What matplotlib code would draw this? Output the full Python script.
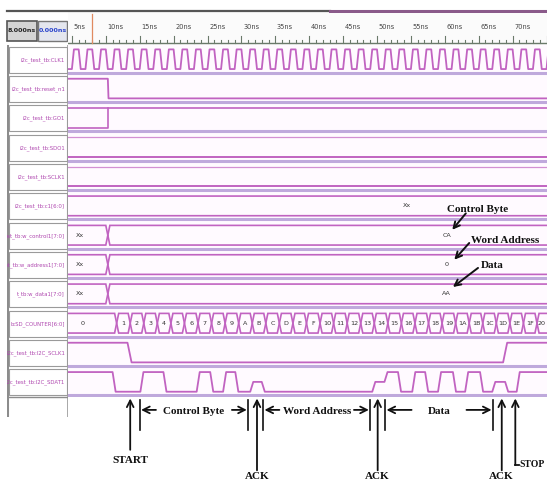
import matplotlib.pyplot as plt
from matplotlib.patches import Polygon, Rectangle

# ---- values ----
# long names are shown cut at the left edge of the name column, as in the screenshot
signal_names = ["i2c_test_tb:CLK1", "i2c_test_tb:reset_n1", "i2c_test_tb:GO1",
                "i2c_test_tb:SDO1", "i2c_test_tb:SCLK1", "i2c_test_tb:c1[6:0]",
                "est_tb:w_control1[7:0]", "st_tb:w_address1[7:0]",
                "t_tb:w_data1[7:0]", "b:SD_COUNTER[6:0]",
                "i2c_test_tb:I2C_SCLK1", "i2c_test_tb:I2C_SDAT1"]
time_ticks = [5, 10, 15, 20, 25, 30, 35, 40, 45, 50, 55, 60, 65, 70]
time_labels = ["5ns", "10ns", "15ns", "20ns", "25ns", "30ns", "35ns", "40ns",
               "45ns", "50ns", "55ns", "60ns", "65ns", "70ns"]
master_time = "8.000ns"
pointer_time = "0.000ns"
cursor_time = 8.0

clk_rise = [3, 5, 7, 9, 11, 13, 15, 17, 19, 21, 23, 25, 27, 29, 31, 33, 35, 37,
            39, 41, 43, 45, 47, 49, 51, 53, 55, 57, 59, 61, 63, 65, 67, 69, 71, 73, 75]
reset_fall = 10.3
go_rise = 10.3
c1_value = "Xx"
word_change = 10.3
control_vals = ["Xx", "CA"]
address_vals = ["Xx", "0"]
data_vals = ["Xx", "AA"]

counter_vals = ["0", "1", "2", "3", "4", "5", "6", "7", "8", "9", "A", "B", "C",
                "D", "E", "F", "10", "11", "12", "13", "14", "15", "16", "17", "18",
                "19", "1A", "1B", "1C", "1D", "1E", "1F", "20"]
counter_start = [0.0, 11.6, 13.6, 15.6, 17.6, 19.6, 21.6, 23.6, 25.6, 27.6, 29.6,
                 31.6, 33.6, 35.6, 37.6, 39.6, 41.6, 43.6, 45.6, 47.6, 49.6, 51.6,
                 53.6, 55.6, 57.6, 59.6, 61.6, 63.6, 65.6, 67.6, 69.6, 71.6, 73.6]

sclk_t = [13.2, 68.6]
sclk_v = [0, 1]
sdat_t = [11.0, 15.1, 18.5, 23.4, 25.4, 27.3, 29.1, 31.3, 33.0, 49.3, 51.1, 53.1,
          55.2, 57.1, 59.0, 61.2, 63.0, 65.2, 67.0, 68.9, 70.6]
sdat_v = [0, 1, 0, 1, 0, 1, 0, 0.5, 0, 0.5, 1, 0, 1, 0, 1, 0, 1, 0, 0.5, 0, 1]

start_t = 13.6
ack_t = [32.3, 50.1, 68.4]
stop_t = 70.4
frame_names = ["Control Byte", "Word Address", "Data"]
frame_from = [15.0, 33.2, 51.2]
frame_to = [31.0, 49.0, 67.1]

# ---- layout / style ----
W, H = 547, 482
PX_NS, ZERO_PX = 6.78, 38.0
T0 = (68 - ZERO_PX) / PX_NS
T1 = (W - ZERO_PX) / PX_NS
SIG = "#c163c1"
SEP = "#bfa9dc"
HI, LO = 0.15, 0.82
ANN = dict(family="Liberation Serif", weight="bold", color="#111111")

fig = plt.figure(figsize=(W / 100, H / 100), dpi=100)


def box(x0, y0, x1, y1):
    a = fig.add_axes([x0 / W, 1 - y1 / H, (x1 - x0) / W, (y1 - y0) / H])
    a.set_axis_off()
    return a


def lvl(row, v):
    return row + LO - (LO - HI) * v


def bit_wave(row, init, ts, vs, edge=0.35):
    xs, ys, cur = [T0 - 1], [lvl(row, init)], init
    for t, v in zip(ts, vs):
        xs += [t, t + edge]
        ys += [lvl(row, cur), lvl(row, v)]
        cur = v
    xs.append(T1 + 1)
    ys.append(lvl(row, cur))
    ax.plot(xs, ys, color=SIG, lw=1.3)


def bus(row, starts, labels, label_t=None, d=0.3):
    ends = list(starts[1:]) + [T1 + 2]
    for k, (s, e) in enumerate(zip(starts, ends)):
        if s < T0:
            s = T0 - 2
        mid = row + (HI + LO) / 2
        pts = [(s, mid), (s + d, row + HI), (e - d, row + HI), (e, mid),
               (e - d, row + LO), (s + d, row + LO)]
        ax.add_patch(Polygon(pts, closed=True, fill=False, ec=SIG, lw=1.2))
        if labels[k]:
            if label_t is not None and label_t[k] is not None:
                tx = label_t[k]
            else:
                tx = (max(s, T0) + min(e, T1)) / 2
            ax.text(tx, mid, labels[k], ha="center", va="center", fontsize=4.6,
                    color="#333333", clip_on=True)


# waveform area
ax = box(68, 45, 547, 397)
ax.set_xlim(T0, T1)
ax.set_ylim(12, 0)
ax.add_patch(Rectangle((0, 0), 1, 1, transform=ax.transAxes, fc="#fffaff", ec="none", zorder=0))
for i in range(1, 13):
    ax.axhline(i - 0.06, color=SEP, lw=2.2, zorder=1)

clk_t, clk_v = [], []
for r in clk_rise:
    clk_t += [r, r + 1]
    clk_v += [1, 0]
bit_wave(0, 0, clk_t, clk_v, edge=0.3)
bit_wave(1, 1, [reset_fall], [0], edge=0.1)
ax.plot([T0 - 1, T1 + 1], [lvl(2, 1)] * 2, color=SIG, lw=1.2)
ax.plot([T0 - 1, go_rise, go_rise], [lvl(2, 0), lvl(2, 0), lvl(2, 1)], color=SIG, lw=1.2)
for row in (3, 4):
    ax.plot([T0 - 1, T1 + 1], [lvl(row, 1)] * 2, color=SIG, lw=0.9, alpha=0.7)
    ax.plot([T0 - 1, T1 + 1], [lvl(row, 0)] * 2, color=SIG, lw=1.4)
bus(5, [0.0], [c1_value], [54.4])
for row, vals in zip((6, 7, 8), (control_vals, address_vals, data_vals)):
    bus(row, [0.0, word_change], vals, [6.2, 60.3])
bus(9, counter_start, counter_vals, [6.6] + [None] * 32)
bit_wave(10, 1, sclk_t, sclk_v, edge=0.6)
bit_wave(11, 1, sdat_t, sdat_v, edge=0.45)

# annotations inside the waveform area
ax.text(64.8, 5.62, "Control Byte", fontsize=8, ha="center", va="center", **ANN)
ax.text(68.9, 6.65, "Word Address", fontsize=8, ha="center", va="center", **ANN)
ax.text(67.0, 7.52, "Data", fontsize=8, ha="center", va="center", **ANN)
arr = dict(arrowstyle="->", color="#111111", lw=1.4, shrinkA=0, shrinkB=0, mutation_scale=11)
for (tx, ty), (hx, hy) in [((63.1, 5.74), (61.1, 6.3)), ((63.6, 6.75), (61.4, 7.32)),
                           ((64.9, 7.6), (61.2, 8.25))]:
    ax.annotate("", xy=(hx, hy), xytext=(tx, ty), arrowprops=arr, annotation_clip=False)

# annotations below the waveform
ann = dict(arrowstyle="->", color="#111111", lw=1.3, shrinkA=0, shrinkB=0, mutation_scale=12)
ax.annotate("", xy=(start_t, 12.05), xytext=(start_t, 13.8), arrowprops=ann, annotation_clip=False)
ax.text(start_t, 14.15, "START", fontsize=8, ha="center", va="center", **ANN)
for a in ack_t:
    ax.annotate("", xy=(a, 12.05), xytext=(a, 14.5), arrowprops=ann, annotation_clip=False)
    ax.text(a, 14.72, "ACK", fontsize=8, ha="center", va="center", **ANN)
ax.annotate("", xy=(stop_t, 12.05), xytext=(stop_t, 14.32), arrowprops=ann, annotation_clip=False)
ax.plot([stop_t, stop_t + 0.55], [14.32, 14.32], color="#111111", lw=1.3, clip_on=False)
ax.text(stop_t + 0.65, 14.3, "STOP", fontsize=7, ha="left", va="center", clip_on=False, **ANN)
arrow_len = [2.2, 2.2, 3.7]
for name, a, b, L in zip(frame_names, frame_from, frame_to, arrow_len):
    for t in (a, b):
        ax.plot([t, t], [12.1, 13.13], color="#111111", lw=1.2, clip_on=False)
    ax.annotate("", xy=(a + 0.2, 12.44), xytext=(a + 0.2 + L, 12.44), arrowprops=ann,
                annotation_clip=False)
    ax.annotate("", xy=(b - 0.2, 12.44), xytext=(b - 0.2 - L, 12.44), arrowprops=ann,
                annotation_clip=False)
    ax.text((a + b) / 2, 12.5, name, fontsize=8, ha="center", va="center", **ANN)

# time ruler
hdr = box(68, 12, 547, 45)
hdr.set_xlim(T0, T1)
hdr.set_ylim(1, 0)
hdr.add_patch(Rectangle((0, 0), 1, 1, transform=hdr.transAxes, fc="#fbfbfb", ec="none", zorder=0))
t = int(T0) + 1
while t < T1:
    top = 0.72 if t % 5 == 0 else 0.84
    hdr.plot([t, t], [top, 0.95], color="#6b7a6b", lw=0.8)
    t += 1
hdr.axhline(0.95, color="#6b7a6b", lw=1.0)
for tt, lab in zip(time_ticks, time_labels):
    hdr.text(tt + 0.25, 0.45, lab, fontsize=4.8, color="#444444", ha="left", va="center")
hdr.plot([cursor_time, cursor_time], [0.05, 0.95], color="#e08a60", lw=0.9)

# top scroll bar
top = box(0, 9, 547, 13)
top.set_xlim(0, W)
top.set_ylim(1, 0)
top.plot([7, 330], [0.5, 0.5], color="#555555", lw=1.6)
top.plot([330, 547], [0.5, 0.5], color="#8a5a8a", lw=2.2)

# time cells in the corner
cor = box(0, 12, 68, 45)
cor.set_xlim(0, 68)
cor.set_ylim(33, 0)
cor.add_patch(Rectangle((7, 9), 30, 20, fc="#d4d4d4", ec="#555555", lw=1.2))
cor.add_patch(Rectangle((38, 9), 29, 20, fc="#e4e6ee", ec="#777777", lw=1.0))
cor.text(22, 19, master_time, fontsize=4.6, weight="bold", color="#222222", ha="center", va="center")
cor.text(52.5, 19, pointer_time, fontsize=4.6, weight="bold", color="#2a44cc", ha="center", va="center")

# signal name column
lab = box(7, 45, 68, 417)
lab.set_xlim(0, 1)
lab.set_ylim(12 + 20 / 29.33, 0)
for i, name in enumerate(signal_names):
    lab.add_patch(Rectangle((0.03, i + 0.06), 0.95, 0.88, fc="white", ec="#9a9a9a", lw=0.8))
    lab.text(0.95, i + 0.5, name, fontsize=3.9, color="#b04ab0", ha="right", va="center",
             clip_on=True)
lab.plot([0.0, 0.0], [0, 12.7], color="#8c8c8c", lw=2.2)
lab.plot([1.0, 1.0], [0, 12.7], color="#9a9a9a", lw=1.2)
lab.plot([0, 1], [12, 12], color="#8c8c8c", lw=1.0)

fig.savefig("out.png", dpi=100)
